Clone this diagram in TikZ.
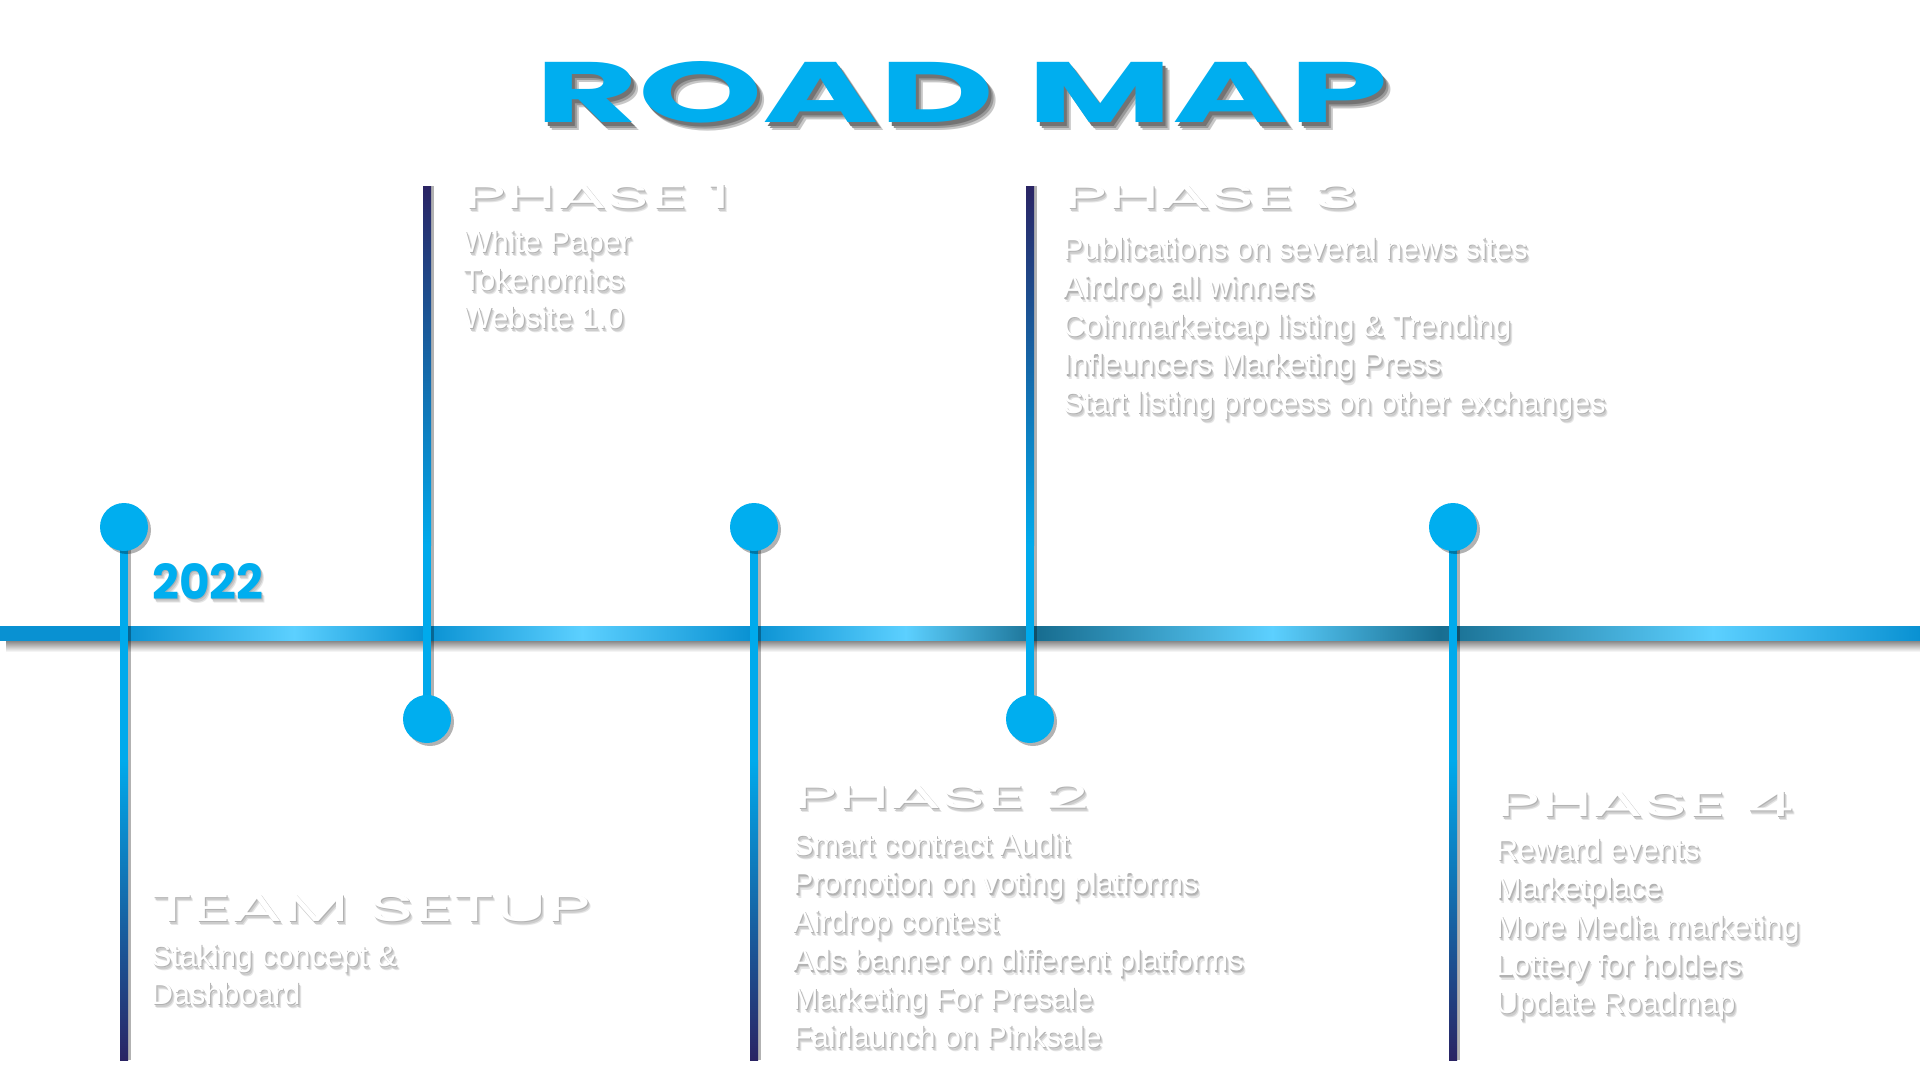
\documentclass[tikz,border=0pt]{standalone}
\usepackage{fontspec}
\usepackage{graphicx}
\usetikzlibrary{calc}
\newfontfamily\bodyfont{Liberation Sans}
\newfontfamily\headfont{Poppins}
\definecolor{cyanA}{RGB}{0,174,239}
\definecolor{barblue}{RGB}{9,145,210}
\definecolor{barlight}{RGB}{92,208,255}
\definecolor{barteal}{RGB}{24,110,145}
\definecolor{navy}{RGB}{42,36,100}
\definecolor{stemcyan}{RGB}{0,170,236}
\pgfdeclarehorizontalshading{barshade}{100bp}{color(0bp)=(barblue); color(28.18bp)=(barblue); color(32.66bp)=(barlight); color(36.09bp)=(barblue); color(40.16bp)=(barlight); color(44.58bp)=(barblue); color(48.59bp)=(barlight); color(52.08bp)=(barteal); color(58.13bp)=(barlight); color(62.5bp)=(barteal); color(69.61bp)=(barlight); color(75bp)=(barblue); color(100bp)=(barblue)}
% soft drop shadow drawn inside the same node as the text
\newcommand{\softshadow}[1]{%
  \rlap{\kern3bp\raisebox{-4.5bp}{\color{black!10}#1}}%
  \rlap{\kern2bp\raisebox{-3bp}{\color{black!20}#1}}%
  \rlap{\kern1bp\raisebox{-1.5bp}{\color{black!30}#1}}#1}
\newcommand{\darkshadow}[1]{%
  \rlap{\kern7bp\raisebox{-8bp}{\color{black!22}#1}}%
  \rlap{\kern5bp\raisebox{-6bp}{\color{black!40}#1}}%
  \rlap{\kern3bp\raisebox{-4bp}{\color{black!55}#1}}#1}
\tikzset{
  body/.style={inner sep=0pt, anchor=base west, text=white,
    font=\bodyfont\fontsize{30.5bp}{36bp}\selectfont},
  head/.style={inner sep=0pt, anchor=base west, text=white},
  titletext/.style={inner sep=0pt, anchor=base west, text=cyanA},
  dot/.style={circle, fill=cyanA, minimum size=48bp, inner sep=0pt},
}
\newcommand{\bodyline}[3]{\node[body] (#1) at (#2) {\softshadow{#3}};}
\newcommand{\headline}[5]{\node[head] (#1) at (#2) {\softshadow{\resizebox{#3bp}{#4bp}{\headfont #5}}};}
\begin{document}
\begin{tikzpicture}[x=1bp,y=-1bp]
\useasboundingbox (0,0) rectangle (1920,1080);
\fill[white] (0,0) rectangle (1920,1080);

% title
\node[titletext] (title) at (535,122) {\darkshadow{\resizebox{852bp}{61bp}{\headfont\bfseries ROAD MAP}}};

% main bar
\shade[top color=black!55, bottom color=white] (6,639) rectangle (1920,652);
\shade[shading=barshade] (0,626) rectangle (1920,640);

% upper stems (phase 1, phase 3)
\foreach \x/\n in {427/1,1030/3}{
  \coordinate (top\n) at (\x,186);
  \fill[black,opacity=.3] ($(top\n)+(4,0)$) rectangle (\x+7,719);
  \shade[top color=navy, bottom color=stemcyan] ($(top\n)+(-4,0)$) rectangle (\x+4,545);
  \fill[stemcyan] (\x-4,544) rectangle (\x+4,719);
}
% lower stems (team, phase 2, phase 4)
\foreach \x/\n in {124/0,754/2,1453/4}{
  \coordinate (bot\n) at (\x,1060);
  \fill[black,opacity=.3] (\x+4,527) rectangle ($(bot\n)+(7,0)$);
  \fill[stemcyan] (\x-4,527) rectangle (\x+4,761);
  \shade[top color=stemcyan, bottom color=navy] (\x-4,760) rectangle ($(bot\n)+(4,0)$);
}
% dots
\foreach \x/\y/\n in {124/527/0,427/719/1,754/527/2,1030/719/3,1453/527/4}{
  \fill[black,opacity=.3] (\x+3,\y+3) circle[radius=24bp];
  \node[dot] (d\n) at (\x,\y) {};
}

% year
\node[titletext] (year) at (152,599) {\softshadow{\resizebox{111bp}{36bp}{\headfont\bfseries 2022}}};

% team setup
\headline{h0}{151,921}{440}{27}{TEAM SETUP}
\bodyline{t0a}{151,966}{Staking concept \&}
\bodyline{t0b}{151,1004}{Dashboard}

% phase 1
\headline{h1}{463,208}{268}{24}{PHASE 1}
\bodyline{t1a}{463,252}{White Paper}
\bodyline{t1b}{463,290}{Tokenomics}
\bodyline{t1c}{463,328}{Website 1.0}

% phase 2
\headline{h2}{793,808}{296}{24}{PHASE 2}
\bodyline{t2a}{793,855}{Smart contract Audit}
\bodyline{t2b}{793,893.5}{Promotion on voting platforms}
\bodyline{t2c}{793,932}{Airdrop contest}
\bodyline{t2d}{793,970.5}{Ads banner on different platforms}
\bodyline{t2e}{793,1009}{Marketing For Presale}
\bodyline{t2f}{793,1047}{Fairlaunch on Pinksale}

% phase 3
\headline{h3}{1063,208}{296}{24}{PHASE 3}
\bodyline{t3a}{1063,259}{Publications on several news sites}
\bodyline{t3b}{1063,297.5}{Airdrop all winners}
\bodyline{t3c}{1063,336}{Coinmarketcap listing \& Trending}
\bodyline{t3d}{1063,374.5}{Infleuncers Marketing Press}
\bodyline{t3e}{1063,413}{Start listing process on other exchanges}

% phase 4
\headline{h4}{1496,816}{298}{25}{PHASE 4}
\bodyline{t4a}{1496,860}{Reward events}
\bodyline{t4b}{1496,898.5}{Marketplace}
\bodyline{t4c}{1496,937}{More Media marketing}
\bodyline{t4d}{1496,975.5}{Lottery for holders}
\bodyline{t4e}{1496,1013}{Update Roadmap}
\end{tikzpicture}
\end{document}
